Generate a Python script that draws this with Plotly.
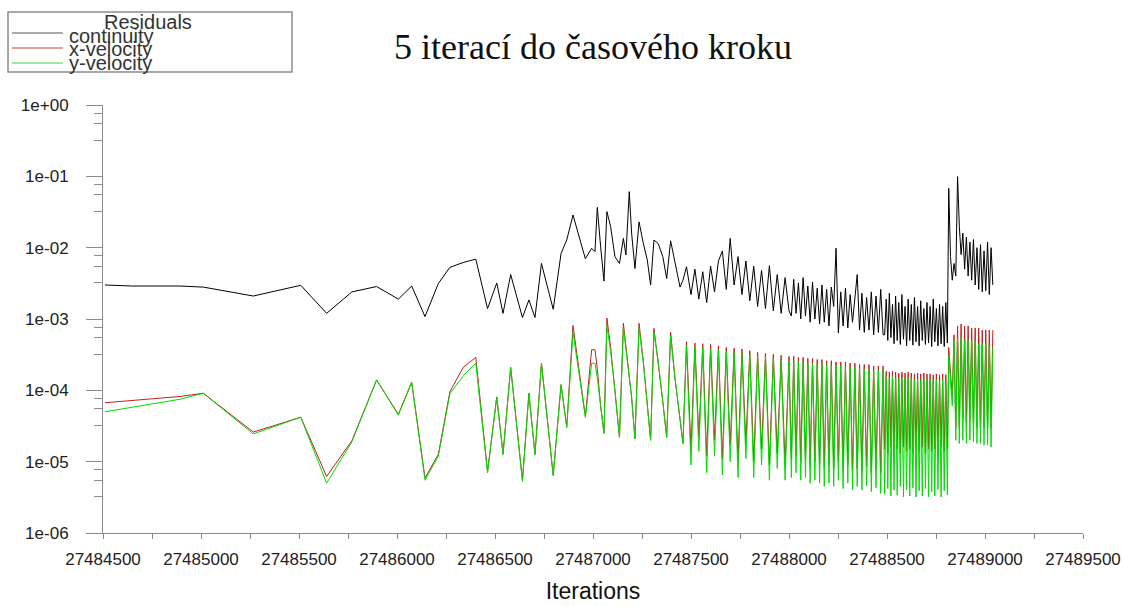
import plotly.graph_objects as go

# ---------------- data ----------------
it_early = [27484510, 27484646, 27484893, 27485012, 27485267, 27485509, 27485641, 27485770,
            27485896, 27486007, 27486075, 27486143, 27486211, 27486270, 27486338, 27486402,
            27486462, 27486509, 27486541, 27486580, 27486640, 27486673, 27486704, 27486737,
            27486797, 27486837, 27486866, 27486898, 27486961, 27486993, 27487010, 27487022,
            27487039, 27487056, 27487071, 27487090, 27487112, 27487135, 27487155, 27487168,
            27487185, 27487197, 27487214, 27487235, 27487257, 27487277, 27487294, 27487311,
            27487333, 27487356, 27487376, 27487396, 27487418, 27487444, 27487459, 27487477]
cont_early = [3.0e-3, 2.9e-3, 2.9e-3, 2.8e-3, 2.1e-3, 2.97e-3, 1.2e-3, 2.4e-3, 2.85e-3, 1.9e-3,
              2.9e-3, 1.08e-3, 3.15e-3, 5.3e-3, 6.2e-3, 6.9e-3, 1.4e-3, 3.2e-3, 1.2e-3, 4.2e-3,
              1.05e-3, 1.85e-3, 1.05e-3, 6.0e-3, 1.37e-3, 8.3e-3, 1.28e-2, 2.87e-2, 7.0e-3, 9.8e-3,
              8.8e-3, 3.67e-2, 1.03e-2, 3.4e-3, 3.2e-2, 1.97e-2, 7.5e-3, 6.0e-3, 1.35e-2, 7.9e-3,
              6.1e-2, 1.6e-2, 5.1e-3, 2.3e-2, 1.14e-2, 6.7e-3, 3.0e-3, 1.28e-2, 1.14e-2, 7.5e-3,
              3.7e-3, 1.25e-2, 6.3e-3, 2.8e-3, 3.5e-3, 5.4e-3]
xvel_early = [6.7e-5, 7.2e-5, 8.2e-5, 9.1e-5, 2.6e-5, 4.2e-5, 6.2e-6, 1.97e-5, 1.4e-4, 4.6e-5,
              1.3e-4, 5.9e-6, 1.27e-5, 9.6e-5, 2.1e-4, 2.9e-4, 7.3e-6, 8.1e-5, 1.3e-5, 2.1e-4,
              5.5e-6, 9.1e-5, 1.27e-5, 2.4e-4, 6.5e-6, 1.2e-4, 3.1e-5, 8.1e-4, 4.3e-5, 3.7e-4,
              3.7e-4, 2.0e-4, 6e-5, 2.5e-5, 1.03e-3, 4e-4, 1e-4, 2.2e-5, 8.7e-4, 4e-4,
              1.5e-4, 8e-5, 2.1e-5, 8.7e-4, 2.5e-4, 6e-5, 2.0e-5, 7.4e-4, 2.5e-4, 7e-5,
              2.2e-5, 6.5e-4, 1.5e-4, 4e-5, 1.8e-5, 4.8e-4]
yvel_early = [5.0e-5, 5.8e-5, 7.5e-5, 9.1e-5, 2.45e-5, 4.2e-5, 5.0e-6, 1.9e-5, 1.4e-4, 4.5e-5,
              1.3e-4, 5.5e-6, 1.2e-5, 9.0e-5, 1.6e-4, 2.4e-4, 7.0e-6, 8.0e-5, 1.25e-5, 2.1e-4,
              5.3e-6, 9.0e-5, 1.25e-5, 2.4e-4, 6.3e-6, 1.2e-4, 3.0e-5, 6.5e-4, 4.2e-5, 2.4e-4,
              2.4e-4, 1.5e-4, 5.5e-5, 2.5e-5, 8.0e-4, 3.5e-4, 1e-4, 2.2e-5, 7.5e-4, 3.8e-4,
              1.5e-4, 8e-5, 2.1e-5, 7.5e-4, 2.4e-4, 6e-5, 2.0e-5, 6.5e-4, 2.5e-4, 7e-5,
              2.2e-5, 5.8e-4, 1.5e-4, 4e-5, 1.8e-5, 4.2e-4]

it_a = [27487500, 27487520, 27487540, 27487560, 27487580, 27487600, 27487620, 27487640,
        27487660, 27487680, 27487700, 27487720, 27487740, 27487760, 27487780, 27487800,
        27487820, 27487840, 27487860, 27487880, 27487900, 27487920, 27487940, 27487960,
        27487980, 27488000]
cont_a = [2.2e-3, 5.0e-3, 1.9e-3, 4.6e-3, 1.7e-3, 5.5e-3, 2.4e-3, 6.5e-3, 9.0e-3, 2.6e-3,
          1.35e-2, 3.0e-3, 7.5e-3, 2.2e-3, 6.5e-3, 1.8e-3, 5.5e-3, 1.5e-3, 4.8e-3, 1.4e-3,
          5.6e-3, 1.3e-3, 4.2e-3, 1.2e-3, 3.8e-3, 1.3e-3]
xvel_a = [1.5e-5, 4.6e-4, 2.2e-5, 4.5e-4, 1.2e-5, 4.4e-4, 2.0e-5, 4.2e-4, 1.1e-5, 4.0e-4,
          1.7e-5, 3.9e-4, 1.0e-5, 3.8e-4, 1.8e-5, 3.6e-4, 1.0e-5, 3.4e-4, 1.5e-5, 3.3e-4,
          9e-6, 3.2e-4, 1.3e-5, 3.1e-4, 9e-6, 3.0e-4]
yvel_a = [9e-6, 4.0e-4, 1.4e-5, 3.9e-4, 7e-6, 3.8e-4, 1.2e-5, 3.7e-4, 6.5e-6, 3.5e-4,
          1.0e-5, 3.4e-4, 6e-6, 3.3e-4, 1.1e-5, 3.2e-4, 6e-6, 3.0e-4, 9e-6, 2.9e-4,
          5.5e-6, 2.8e-4, 8e-6, 2.7e-4, 5.5e-6, 2.6e-4]

it_b = [27488012, 27488024, 27488036, 27488048, 27488060, 27488072, 27488084, 27488096,
        27488108, 27488120, 27488132, 27488144, 27488156, 27488168, 27488180, 27488192,
        27488204, 27488216, 27488228, 27488240, 27488252, 27488264, 27488276, 27488288,
        27488300, 27488312, 27488324, 27488336, 27488348, 27488360, 27488372, 27488384,
        27488396, 27488408, 27488420, 27488432, 27488444, 27488456, 27488468, 27488480]
cont_b = [1.1e-3, 3.6e-3, 1.2e-3, 3.2e-3, 1.0e-3, 3.8e-3, 1.1e-3, 2.9e-3, 9e-4, 3.3e-3,
          1.0e-3, 2.7e-3, 8.5e-4, 3.0e-3, 9e-4, 2.6e-3, 8e-4, 2.8e-3, 1.5e-3, 9.8e-3,
          6.4e-4, 2.4e-3, 8e-4, 2.7e-3, 7.5e-4, 2.2e-3, 9e-4, 2.0e-3, 4.2e-3, 7e-4,
          2.3e-3, 6.5e-4, 2.0e-3, 7e-4, 2.4e-3, 6e-4, 2.1e-3, 6.5e-4, 2.6e-3, 6e-4]
xvel_b = [1.1e-5, 3.0e-4, 1.2e-5, 2.9e-4, 1.0e-5, 2.9e-4, 1.1e-5, 2.8e-4, 9e-6, 2.8e-4,
          1.0e-5, 2.7e-4, 9e-6, 2.7e-4, 8.5e-6, 2.6e-4, 9e-6, 2.6e-4, 8e-6, 2.5e-4,
          1.0e-5, 2.5e-4, 8e-6, 2.5e-4, 9e-6, 2.4e-4, 7.5e-6, 2.4e-4, 8e-6, 2.3e-4,
          7.5e-6, 2.3e-4, 8.5e-6, 2.3e-4, 7e-6, 2.2e-4, 8e-6, 2.2e-4, 7e-6, 2.2e-4]
yvel_b = [6e-6, 2.6e-4, 7e-6, 2.5e-4, 5.5e-6, 2.5e-4, 6e-6, 2.4e-4, 5e-6, 2.4e-4,
          5.5e-6, 2.3e-4, 5e-6, 2.3e-4, 4.5e-6, 2.3e-4, 5e-6, 2.2e-4, 4.5e-6, 2.2e-4,
          5.5e-6, 2.2e-4, 4.2e-6, 2.1e-4, 5e-6, 2.1e-4, 4e-6, 2.1e-4, 4.5e-6, 2.0e-4,
          4e-6, 2.0e-4, 4.6e-6, 2.0e-4, 3.8e-6, 1.9e-4, 4.3e-6, 1.9e-4, 3.6e-6, 1.9e-4]

it_c = [27488488, 27488496, 27488504, 27488512, 27488520, 27488528, 27488536, 27488544,
        27488552, 27488560, 27488568, 27488576, 27488584, 27488592, 27488600, 27488608,
        27488616, 27488624, 27488632, 27488640, 27488648, 27488656, 27488664, 27488672,
        27488680, 27488688, 27488696, 27488704, 27488712, 27488720, 27488728, 27488736,
        27488744, 27488752, 27488760, 27488768, 27488776, 27488784, 27488792, 27488800,
        27488808]
cont_c = [6e-4, 1.9e-3, 5e-4, 2.3e-3, 5.5e-4, 1.6e-3, 4.5e-4, 2.1e-3, 5e-4, 1.7e-3,
          4.4e-4, 2.2e-3, 5.2e-4, 1.5e-3, 4.2e-4, 1.9e-3, 5e-4, 1.6e-3, 4.3e-4, 2.0e-3,
          4.8e-4, 1.5e-3, 4.2e-4, 1.8e-3, 5e-4, 1.4e-3, 4.4e-4, 1.7e-3, 4.6e-4, 1.5e-3,
          4.1e-4, 1.9e-3, 4.8e-4, 1.4e-3, 4.2e-4, 1.6e-3, 4.5e-4, 1.5e-3, 4.1e-4, 1.7e-3,
          4.6e-4]
xvel_c = [1.5e-5, 1.85e-4, 1.3e-5, 1.8e-4, 1.6e-5, 1.85e-4, 1.4e-5, 1.8e-4, 1.5e-5, 1.75e-4,
          1.3e-5, 1.8e-4, 1.6e-5, 1.75e-4, 1.4e-5, 1.8e-4, 1.5e-5, 1.75e-4, 1.3e-5, 1.7e-4,
          1.5e-5, 1.75e-4, 1.4e-5, 1.7e-4, 1.6e-5, 1.75e-4, 1.3e-5, 1.7e-4, 1.5e-5, 1.7e-4,
          1.4e-5, 1.65e-4, 1.5e-5, 1.7e-4, 1.3e-5, 1.65e-4, 1.6e-5, 1.7e-4, 1.4e-5, 1.65e-4,
          1.5e-5]
yvel_c = [3.5e-6, 1.55e-4, 4.2e-6, 1.5e-4, 3.3e-6, 1.55e-4, 4e-6, 1.5e-4, 3.4e-6, 1.45e-4,
          4.5e-6, 1.5e-4, 3.2e-6, 1.45e-4, 4e-6, 1.5e-4, 3.3e-6, 1.45e-4, 4.3e-6, 1.4e-4,
          3.2e-6, 1.45e-4, 3.9e-6, 1.4e-4, 3.3e-6, 1.45e-4, 4.2e-6, 1.4e-4, 3.2e-6, 1.4e-4,
          3.8e-6, 1.35e-4, 3.3e-6, 1.4e-4, 4.1e-6, 1.35e-4, 3.2e-6, 1.4e-4, 3.9e-6, 1.35e-4,
          3.4e-6]

it_d = [27488815, 27488824, 27488833, 27488842, 27488851, 27488860, 27488869, 27488878,
        27488887, 27488896, 27488905, 27488914, 27488923, 27488932, 27488941, 27488950,
        27488959, 27488968, 27488977, 27488986, 27488995, 27489004, 27489013, 27489022,
        27489031, 27489040]
cont_d = [6.8e-2, 7.5e-3, 3.5e-3, 6e-3, 4e-3, 9.9e-2, 2.0e-2, 8e-3, 1.6e-2, 5e-3,
          1.4e-2, 4e-3, 1.2e-2, 3.5e-3, 1.3e-2, 3e-3, 1.0e-2, 2.6e-3, 1.1e-2, 2.4e-3,
          9e-3, 2.5e-3, 1.2e-2, 2.2e-3, 1.0e-2, 3.0e-3]
xvel_d = [4e-4, 1.5e-4, 8e-5, 6e-4, 3e-5, 8e-4, 3e-5, 8.5e-4, 4e-5, 8e-4,
          3.5e-5, 8e-4, 4e-5, 7.5e-4, 3.5e-5, 7.5e-4, 3e-5, 7.5e-4, 3e-5, 7e-4,
          3e-5, 7e-4, 3e-5, 7e-4, 3e-5, 7e-4]
yvel_d = [3e-4, 1.2e-4, 6e-5, 5e-4, 2e-5, 5.5e-4, 1.8e-5, 5.5e-4, 2e-5, 5e-4,
          1.8e-5, 5e-4, 2e-5, 5e-4, 1.9e-5, 5e-4, 1.8e-5, 4.5e-4, 1.8e-5, 4.5e-4,
          1.7e-5, 4.5e-4, 1.7e-5, 4.2e-4, 1.6e-5, 4e-4]

x_ticks = [27484500, 27485000, 27485500, 27486000, 27486500, 27487000,
           27487500, 27488000, 27488500, 27489000, 27489500]
y_ticks = [1e-6, 1e-5, 1e-4, 1e-3, 1e-2, 1e-1, 1e0]
y_tick_text = ["1e-06", "1e-05", "1e-04", "1e-03", "1e-02", "1e-01", "1e+00"]

series_names = ["continuity", "x-velocity", "y-velocity"]
series_colors = ["#000000", "#c02020", "#00dd00"]

# ---------------- assemble ----------------
iterations = it_early + it_a + it_b + it_c + it_d
continuity = cont_early + cont_a + cont_b + cont_c + cont_d
x_velocity = xvel_early + xvel_a + xvel_b + xvel_c + xvel_d
y_velocity = yvel_early + yvel_a + yvel_b + yvel_c + yvel_d

W, H = 1123, 606
L, R, T, B = 103, 40, 105, 73
PW, PH = W - L - R, H - T - B


def px(xpix):
    return (xpix - L) / PW


def py(ypix):
    return (H - B - ypix) / PH


fig = go.Figure()
for name, ys, col in zip(series_names, [continuity, x_velocity, y_velocity], series_colors):
    fig.add_trace(go.Scatter(x=iterations, y=ys, mode="lines", name=name,
                             line=dict(color=col, width=1), showlegend=False))

x_minor = [v + 250 for v in x_ticks[:-1]]
y_minor = []
for d in range(-5, 1):
    for f in (0.32, 0.55, 0.77):
        y_minor.append(f * 10 ** d)

axis_col = "#8a8a8a"
tick_font = dict(family="Arial, Liberation Sans, sans-serif", size=17, color="#222222")

fig.update_layout(
    width=W, height=H,
    margin=dict(l=L, r=R, t=T, b=B, autoexpand=False),
    paper_bgcolor="white", plot_bgcolor="white",
    title=dict(text="5 iterací do časového kroku", x=593 / W, xanchor="center",
               y=1 - 46 / H, yanchor="middle", yref="container", automargin=False,
               font=dict(family="Liberation Serif, Times New Roman, serif", size=36, color="#111111")),
    xaxis=dict(range=[27484500, 27489500], tickmode="array", tickvals=x_ticks,
               ticktext=[str(v) for v in x_ticks], showgrid=False, zeroline=False,
               automargin=False,
               showline=True, linecolor=axis_col, linewidth=1,
               ticks="outside", ticklen=5, tickcolor=axis_col, tickwidth=1,
               ticklabelstandoff=6, tickfont=tick_font,
               minor=dict(tickmode="array", tickvals=x_minor, ticks="outside",
                          ticklen=5, tickcolor=axis_col, showgrid=False),
               title=dict(text="Iterations", standoff=14,
                          font=dict(family="Arial, Liberation Sans, sans-serif", size=23,
                                    color="#111111"))),
    yaxis=dict(type="log", range=[-6, 0], tickmode="array", tickvals=y_ticks,
               ticktext=y_tick_text, showgrid=False, zeroline=False,
               automargin=False,
               showline=True, linecolor=axis_col, linewidth=1,
               ticks="outside", ticklen=16, tickcolor=axis_col, tickwidth=1,
               ticklabelstandoff=14, tickfont=tick_font,
               minor=dict(tickmode="array", tickvals=y_minor, ticks="outside",
                          ticklen=8, tickcolor=axis_col, showgrid=False)),
)

# legend box drawn by hand (overlapping rows as in the original)
shapes = [dict(type="rect", xref="paper", yref="paper", x0=px(8), x1=px(292),
               y0=py(72), y1=py(12), line=dict(color="#8c8c8c", width=1.5),
               fillcolor="white", layer="above")]
legend_line_cols = ["#555555", "#c04040", "#40d040"]
row_line_y = [33, 48, 63]
row_text_y = [35.5, 49.5, 63.5]
for ly, col in zip(row_line_y, legend_line_cols):
    shapes.append(dict(type="line", xref="paper", yref="paper", x0=px(12), x1=px(63),
                       y0=py(ly), y1=py(ly), line=dict(color=col, width=1.2)))
fig.update_layout(shapes=shapes)

leg_font = dict(family="Arial, Liberation Sans, sans-serif", size=20, color="#333333")
ann = [dict(text="Residuals", xref="paper", yref="paper", x=px(148), y=py(21.5),
            xanchor="center", yanchor="middle", showarrow=False, font=leg_font)]
for name, ty in zip(series_names, row_text_y):
    ann.append(dict(text=name, xref="paper", yref="paper", x=px(67), y=py(ty),
                    xanchor="left", yanchor="middle", showarrow=False, font=leg_font))
fig.update_layout(annotations=ann)

# remove the browser's default 8px page margin so the figure sits at the window's corner
fig.write_html("out.html", config={"displayModeBar": False},
               post_script="document.body.style.margin='0';")
